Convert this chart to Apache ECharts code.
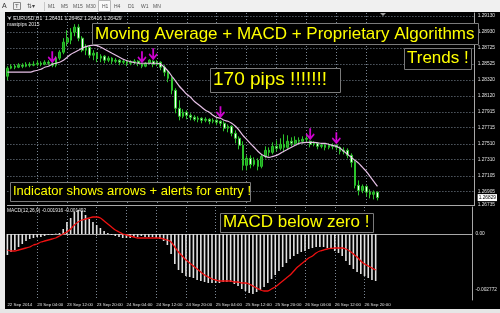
<!DOCTYPE html>
<html><head><meta charset="utf-8">
<script src="https://cdn.jsdelivr.net/npm/echarts@6/dist/echarts.min.js"></script>
<style>html,body{margin:0;padding:0;background:#f0f0f0;overflow:hidden}#c{width:500px;height:313px}</style>
</head><body><div id="c"></div>
<script>
// ---------- data ----------
const timeLabels = ['22 Sep 2014','23 Sep 04:00','23 Sep 12:00','23 Sep 20:00','24 Sep 04:00','24 Sep 12:00','24 Sep 20:00','25 Sep 04:00','25 Sep 12:00','25 Sep 20:00','26 Sep 04:00','26 Sep 12:00','26 Sep 20:00'];
const timeLabelIdx = [0,8,16,24,32,40,48,56,64,72,80,88,96];
const slotCount = 126; // bar slots across the chart incl. right shift space

const opens = [1.28368,1.28470,1.28495,1.28482,1.28508,1.28495,1.28520,1.28508,1.28520,1.28533,
1.28520,1.28546,1.28533,1.28508,1.28597,1.28673,1.28800,1.28825,1.28927,1.28990,
1.28851,1.28698,1.28736,1.28635,1.28660,1.28597,1.28622,1.28571,1.28597,1.28558,
1.28571,1.28546,1.28558,1.28533,1.28546,1.28558,1.28520,1.28495,1.28533,1.28558,
1.28520,1.28546,1.28482,1.28419,1.28343,1.28190,1.27962,1.27860,1.27911,1.27873,
1.27847,1.27822,1.27835,1.27809,1.27822,1.27797,1.27809,1.27797,1.27771,1.27708,
1.27733,1.27644,1.27581,1.27492,1.27238,1.27327,1.27250,1.27301,1.27225,1.27352,
1.27428,1.27403,1.27479,1.27454,1.27504,1.27466,1.27543,1.27517,1.27555,1.27543,
1.27568,1.27543,1.27504,1.27517,1.27479,1.27492,1.27466,1.27492,1.27492,1.27466,
1.27416,1.27428,1.27365,1.27276,1.26984,1.26920,1.26971,1.26898,1.26870,1.26898];
const closes = [1.28470,1.28495,1.28482,1.28508,1.28495,1.28520,1.28508,1.28520,1.28533,1.28520,
1.28546,1.28533,1.28508,1.28597,1.28673,1.28800,1.28851,1.28927,1.28990,1.28851,
1.28698,1.28736,1.28635,1.28660,1.28597,1.28622,1.28571,1.28597,1.28558,1.28571,
1.28546,1.28558,1.28533,1.28546,1.28558,1.28533,1.28495,1.28533,1.28571,1.28520,
1.28546,1.28482,1.28419,1.28343,1.28190,1.27962,1.27860,1.27911,1.27873,1.27847,
1.27822,1.27835,1.27809,1.27822,1.27797,1.27809,1.27784,1.27771,1.27708,1.27733,
1.27644,1.27581,1.27492,1.27238,1.27327,1.27250,1.27301,1.27225,1.27352,1.27428,
1.27403,1.27479,1.27454,1.27504,1.27466,1.27543,1.27517,1.27555,1.27543,1.27568,
1.27581,1.27504,1.27517,1.27479,1.27492,1.27466,1.27492,1.27479,1.27466,1.27416,
1.27428,1.27365,1.27276,1.26984,1.26920,1.26971,1.26898,1.26870,1.26898,1.26829];
const lows = [1.28317,1.28457,1.28457,1.28470,1.28470,1.28482,1.28482,1.28495,1.28495,1.28495,
1.28508,1.28508,1.28482,1.28482,1.28571,1.28647,1.28749,1.28774,1.28876,1.28812,
1.28673,1.28635,1.28597,1.28571,1.28546,1.28546,1.28533,1.28546,1.28520,1.28533,
1.28508,1.28520,1.28495,1.28508,1.28520,1.28495,1.28470,1.28482,1.28520,1.28482,
1.28495,1.28444,1.28368,1.28292,1.28139,1.27898,1.27809,1.27835,1.27822,1.27809,
1.27797,1.27784,1.27771,1.27784,1.27758,1.27771,1.27746,1.27733,1.27670,1.27657,
1.27606,1.27517,1.27441,1.27174,1.27174,1.27200,1.27225,1.27174,1.27200,1.27327,
1.27352,1.27377,1.27416,1.27428,1.27403,1.27441,1.27479,1.27492,1.27504,1.27517,
1.27530,1.27466,1.27479,1.27441,1.27454,1.27428,1.27441,1.27441,1.27428,1.27377,
1.27377,1.27327,1.27212,1.26946,1.26857,1.26885,1.26844,1.26819,1.26806,1.26793];
const highs = [1.28495,1.28520,1.28520,1.28533,1.28533,1.28546,1.28546,1.28558,1.28571,1.28558,
1.28571,1.28571,1.28546,1.28622,1.28698,1.28851,1.28952,1.28978,1.29028,1.29028,
1.28876,1.28774,1.28762,1.28698,1.28673,1.28647,1.28635,1.28622,1.28609,1.28597,
1.28584,1.28584,1.28571,1.28571,1.28584,1.28571,1.28533,1.28546,1.28584,1.28571,
1.28571,1.28558,1.28508,1.28444,1.28368,1.28216,1.28063,1.27949,1.27936,1.27898,
1.27873,1.27860,1.27847,1.27847,1.27835,1.27835,1.27822,1.27809,1.27797,1.27758,
1.27746,1.27682,1.27606,1.27543,1.27365,1.27365,1.27339,1.27327,1.27377,1.27479,
1.27466,1.27530,1.27555,1.27581,1.27631,1.27619,1.27593,1.27606,1.27593,1.27606,
1.27619,1.27555,1.27543,1.27530,1.27517,1.27517,1.27517,1.27517,1.27504,1.27479,
1.27466,1.27454,1.27390,1.27301,1.27047,1.26996,1.26984,1.26933,1.26920,1.26908];
const maValues = [1.28419,1.28419,1.28419,1.28419,1.28419,1.28419,1.28419,1.28432,1.28444,1.28457,
1.28482,1.28495,1.28520,1.28533,1.28546,1.28571,1.28609,1.28647,1.28673,1.28698,
1.28724,1.28743,1.28756,1.28762,1.28756,1.28736,1.28711,1.28686,1.28660,1.28635,
1.28609,1.28584,1.28565,1.28552,1.28540,1.28533,1.28533,1.28533,1.28533,1.28533,
1.28533,1.28520,1.28482,1.28432,1.28368,1.28305,1.28241,1.28190,1.28139,1.28101,
1.28051,1.28012,1.27974,1.27936,1.27911,1.27873,1.27847,1.27835,1.27809,1.27797,
1.27771,1.27733,1.27682,1.27619,1.27568,1.27517,1.27467,1.27416,1.27377,1.27352,
1.27339,1.27352,1.27365,1.27390,1.27416,1.27441,1.27467,1.27492,1.27517,1.27524,
1.27530,1.27530,1.27530,1.27524,1.27517,1.27517,1.27504,1.27492,1.27479,1.27454,
1.27416,1.27377,1.27339,1.27301,1.27263,1.27212,1.27162,1.27098,1.27035,1.26971];
const arrowIdx = [12,36,39,57,81,88];
const arrowPrice = [1.28609,1.28609,1.28647,1.27911,1.27631,1.27581];
const macdMain = [-0.00105,-0.0009,-0.0008,-0.00065,-0.0005,-0.00035,-0.00025,-0.0002,-0.00015,-0.00015,
-0.0001,-0.00005,-0.00005,0.00002,0.00005,0.00025,0.0006,0.0008,0.0011,0.0012,
0.00115,0.00095,0.00075,0.0006,0.00045,0.0003,0.00015,0.00005,-0.00005,-0.0001,
-0.00015,-0.0002,-0.0002,-0.0002,-0.00015,-0.00015,-0.0001,-0.00015,-0.00015,-0.00015,
-0.0002,-0.00025,-0.00035,-0.00055,-0.001,-0.0015,-0.0018,-0.00195,-0.0021,-0.00215,
-0.0022,-0.0023,-0.00235,-0.0024,-0.00245,-0.00245,-0.00245,-0.00245,-0.0024,-0.0024,
-0.0024,-0.0025,-0.0026,-0.00275,-0.00285,-0.00295,-0.003,-0.0029,-0.0028,-0.00265,
-0.00245,-0.00225,-0.00205,-0.00185,-0.00165,-0.00145,-0.00125,-0.0011,-0.001,-0.0009,
-0.00085,-0.00075,-0.0007,-0.00065,-0.00065,-0.00065,-0.0007,-0.00075,-0.00085,-0.00095,
-0.0011,-0.00135,-0.00155,-0.00175,-0.0019,-0.002,-0.0021,-0.0022,-0.0023,-0.00235];
const macdSignal = [-0.0008,-0.00085,-0.00085,-0.0008,-0.00075,-0.0007,-0.00065,-0.00055,-0.0005,-0.0004,
-0.00035,-0.0003,-0.00025,-0.0002,-0.0001,0,0.0001,0.00025,0.00045,0.0006,
0.0007,0.00075,0.0008,0.00085,0.00085,0.0008,0.00065,0.0005,0.00035,0.0002,
0.0001,0,-0.00005,-0.0001,-0.00015,-0.0002,-0.0002,-0.0002,-0.0002,-0.0002,
-0.0002,-0.0002,-0.00025,-0.0003,-0.0004,-0.00065,-0.0009,-0.0011,-0.0013,-0.00145,
-0.0016,-0.00175,-0.0019,-0.00205,-0.00215,-0.00225,-0.0023,-0.00235,-0.00235,-0.00235,
-0.00235,-0.0024,-0.0024,-0.00245,-0.00245,-0.0025,-0.0026,-0.0027,-0.0028,-0.00285,
-0.00285,-0.00275,-0.00265,-0.0025,-0.00235,-0.0022,-0.00205,-0.00185,-0.00165,-0.0015,
-0.00135,-0.0012,-0.0011,-0.00095,-0.00085,-0.0008,-0.00075,-0.00072,-0.0007,-0.0007,
-0.0007,-0.00075,-0.00085,-0.001,-0.00115,-0.00135,-0.0015,-0.0016,-0.0017,-0.0018];
const priceTicks = [1.29130,1.28930,1.28725,1.28525,1.28320,1.28120,1.27915,1.27715,1.27510,1.27310,1.27105,1.26905];
const currentPrice = 1.26829;
const priceMin = 1.26735, priceMax = 1.29170;
const macdTicks = [0.001352, 0, -0.002772];
const macdTickText = ['0.001352', '0.00', '-0.002772'];
const macdMin = -0.0033, macdMax = 0.00135;
const headerText = '\u25BC EURUSD,H1  1.26431 1.26462 1.26416 1.26429';
const headerText2 = 'mastpips 2015';
const macdHeader = 'MACD(12,26,9) -0.001916 -0.001492';
const timeframes = ['M1','M5','M15','M30','H1','H4','D1','W1','MN'];

// ---------- chart ----------
const cats = Array.from({length: slotCount}, (_, i) => String(i));
const candles = opens.map((o, i) => [o, closes[i], lows[i], highs[i]]);
const grid = {color: '#7b8794', type: [1, 2], width: 1};
const axisGray = '#a8a8a8';
const GL = 7.4, GW = 469.6;
const isTimeIdx = (i) => timeLabelIdx.indexOf(i) > 0;

const gfx = [];
// toolbar
gfx.push({type:'rect', shape:{x:0,y:0,width:500,height:12}, style:{fill:'#f0f0f0'}, z:100});
gfx.push({type:'rect', shape:{x:0,y:12,width:5,height:298}, style:{fill:'#ececec'}, z:100});
gfx.push({type:'rect', shape:{x:0,y:309,width:500,height:4}, style:{fill:'#e6e6e6'}, z:100});
gfx.push({type:'text', x:2, y:6.5, style:{text:'A', fill:'#333', fontSize:7, fontFamily:'Liberation Sans', verticalAlign:'middle'}, z:101});
gfx.push({type:'rect', shape:{x:13.5,y:2.5,width:7,height:7}, style:{fill:'none', stroke:'#888', lineWidth:1}, z:101});
gfx.push({type:'text', x:15, y:6.5, style:{text:'T', fill:'#555', fontSize:6, fontFamily:'Liberation Sans', verticalAlign:'middle'}, z:101});
gfx.push({type:'text', x:27, y:6.5, style:{text:'\u21C5\u25BE', fill:'#444', fontSize:6, fontFamily:'DejaVu Sans', verticalAlign:'middle'}, z:101});
gfx.push({type:'line', shape:{x1:44.5,y1:2,x2:44.5,y2:11}, style:{stroke:'#c8c8c8'}, z:101});
const tfX = [48,61,73,86,102,114,128,141,153];
timeframes.forEach((t, k) => {
  if (t === 'H1') gfx.push({type:'rect', shape:{x:98.5,y:0.5,width:12,height:11}, style:{fill:'#fafafa', stroke:'#b8b8b8'}, z:101});
  gfx.push({type:'text', x:tfX[k], y:6.5, style:{text:t, fill:'#555', fontSize:5, fontFamily:'Liberation Sans', verticalAlign:'middle'}, z:102});
});
// header texts
gfx.push({type:'text', x:7, y:19, style:{text:headerText, fill:'#e8e8e8', fontSize:5, fontFamily:'Liberation Sans', verticalAlign:'middle'}, z:101});
gfx.push({type:'text', x:7, y:25, style:{text:headerText2, fill:'#e8e8e8', fontSize:5, fontFamily:'Liberation Sans', verticalAlign:'middle'}, z:101});
gfx.push({type:'text', x:7, y:211, style:{text:macdHeader, fill:'#e8e8e8', fontSize:4.8, fontFamily:'Liberation Sans', verticalAlign:'middle'}, z:101});
// chart shift marker
gfx.push({type:'polygon', shape:{points:[[380,13],[386,13],[383,16]]}, style:{fill:'#a0a0a0'}, z:101});
// annotation boxes
function box(x, y, w, h, tx, ty, text, size) {
  gfx.push({type:'rect', shape:{x:x+0.5,y:y+0.5,width:w,height:h}, style:{fill:'#000', stroke:'#7a7a7a', lineWidth:1}, z:110});
  gfx.push({type:'text', x:tx, y:ty, style:{text:text, fill:'#ffff00', fontSize:size, fontFamily:'Liberation Sans', verticalAlign:'middle'}, z:111});
}
box(92, 23, 386, 21, 95, 34, 'Moving Average + MACD + Proprietary Algorithms', 17);
box(404, 48, 67, 21, 407, 58.5, 'Trends !', 17);
box(210, 68, 130, 24, 213, 80, '170 pips !!!!!!!', 19);
box(10, 182, 240, 19, 13, 191.5, 'Indicator shows arrows + alerts for entry !', 13);
box(220, 213, 153, 19, 223, 222, 'MACD below zero !', 17);

const option = {
  backgroundColor: '#000000',
  animation: false,
  graphic: gfx,
  grid: [
    {left: GL, top: 13, width: GW, height: 192},
    {left: GL, top: 207, width: GW, height: 93}
  ],
  xAxis: [
    {type:'category', gridIndex:0, data:cats, boundaryGap:false,
     axisLine:{show:true, lineStyle:{color:axisGray}}, axisTick:{show:false}, axisLabel:{show:false},
     splitLine:{show:true, interval:(i) => isTimeIdx(i), lineStyle:grid}},
    {type:'category', gridIndex:1, data:cats, boundaryGap:false,
     axisLine:{show:true, lineStyle:{color:axisGray}},
     axisTick:{show:true, interval:(i) => timeLabelIdx.indexOf(i) >= 0, length:2, lineStyle:{color:axisGray}},
     axisLabel:{show:true, interval:(i) => timeLabelIdx.indexOf(i) >= 0, align:'left', margin:3,
       formatter:(v, i) => timeLabels[timeLabelIdx.indexOf(i)] || '', color:'#e0e0e0', fontSize:4.4, fontFamily:'Liberation Sans'},
     splitLine:{show:true, interval:(i) => isTimeIdx(i), lineStyle:grid}}
  ],
  yAxis: [
    {type:'value', gridIndex:0, position:'right', min:priceMin, max:priceMax, scale:true,
     axisLine:{show:true, lineStyle:{color:axisGray}},
     axisTick:{show:false, customValues:priceTicks},
     splitLine:{show:true, lineStyle:grid},
     axisLabel:{customValues:priceTicks.concat([currentPrice, priceMin]), margin:3, color:'#e0e0e0', fontSize:4.8, fontFamily:'Liberation Sans',
       formatter:(v) => Math.abs(v - currentPrice) < 1e-7 ? '{b|' + v.toFixed(5) + '}' : v.toFixed(5),
       rich:{b:{backgroundColor:'#ffffff', color:'#000', fontSize:4.8, padding:[1,1]}}}},
    {type:'value', gridIndex:1, position:'right', min:macdMin, max:macdMax,
     axisLine:{show:true, lineStyle:{color:axisGray}},
     axisTick:{show:false, customValues:[0]},
     splitLine:{show:true, lineStyle:grid},
     axisLabel:{customValues:macdTicks, margin:3, color:'#e0e0e0', fontSize:4.8, fontFamily:'Liberation Sans',
       formatter:(v) => { const k = macdTicks.findIndex(t => Math.abs(t - v) < 1e-9); return k >= 0 ? macdTickText[k] : ''; }}}
  ],
  series: [
    {type:'candlestick', xAxisIndex:0, yAxisIndex:0, data:candles, barWidth:2.2, clip:false,
     itemStyle:{color:'#1c9a1c', color0:'#ffffff', borderColor:'#2cc42c', borderColor0:'#2cc42c', borderWidth:1}},
    {type:'line', xAxisIndex:0, yAxisIndex:0, data:maValues, smooth:0.3, symbol:'none',
     lineStyle:{color:'#e6c0e6', width:1.2}, z:3},
    {type:'scatter', xAxisIndex:0, yAxisIndex:0, data:arrowIdx.map((k, j) => [k, arrowPrice[j]]),
     symbol:'path://M4,0 L6,0 L6,8 L9,5 L10,6.5 L5,12 L0,6.5 L1,5 L4,8 Z', symbolSize:[9,12],
     itemStyle:{color:'#ff00ff'}, z:5},
    {type:'bar', xAxisIndex:1, yAxisIndex:1, data:macdMain, barWidth:1.6, itemStyle:{color:'#e2e2e2'}},
    {type:'line', xAxisIndex:1, yAxisIndex:1, data:macdSignal, smooth:0.3, symbol:'none',
     lineStyle:{color:'#ee1111', width:1.3}, z:4}
  ]
};
const chart = echarts.init(document.getElementById('c'), null, {renderer:'canvas', width:500, height:313});
chart.setOption(option);
</script>
</body></html>
